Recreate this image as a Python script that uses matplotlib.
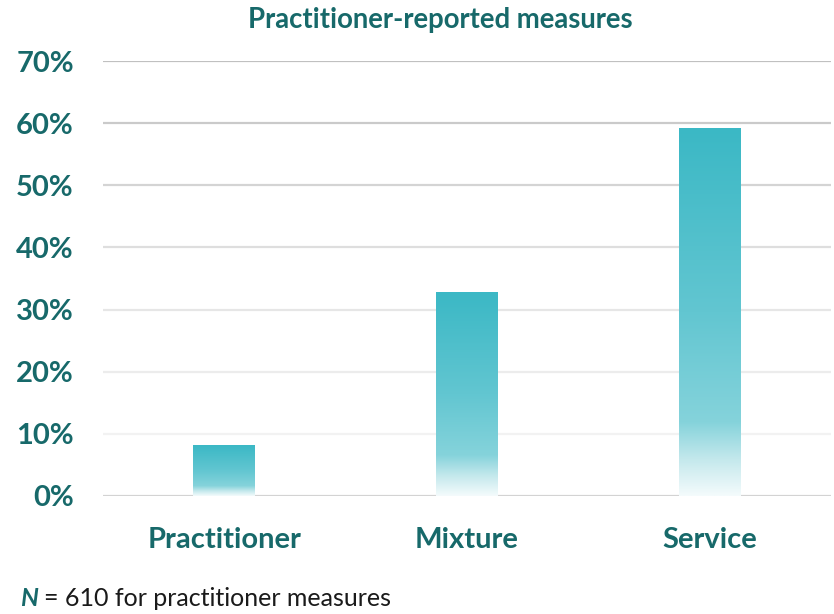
import matplotlib.pyplot as plt
import numpy as np
from matplotlib.colors import LinearSegmentedColormap

# data
categories = ["Practitioner", "Mixture", "Service"]
values = [8.2, 32.8, 59.1]
yticks = [0, 10, 20, 30, 40, 50, 60, 70]
grid_colors = ["#d3d3d3", "#f2f2f2", "#ececec", "#e6e6e6", "#dedede", "#d4d4d4", "#cacaca", "#c0c0c0"]

teal = "#17696a"
plt.rcParams['font.family'] = ['Lato', 'DejaVu Sans']

fig = plt.figure(figsize=(8.34, 6.14), dpi=100)
ax = fig.add_axes([103/834, 1 - 496/614, 728/834, 435/614])

x = np.arange(len(categories))
width = 0.255
bars = ax.bar(x, values, width=width, color="none", zorder=3)

# gradient fill, top teal -> white at bottom of each bar
cmap = LinearSegmentedColormap.from_list("tealfade", [
    (0.0, "#3bb8c5"),
    (0.5, "#62c6d1"),
    (0.8, "#85d3db"),
    (0.9, "#c3e8ec"),
    (1.0, "#f4fbfc"),
])
grad = np.linspace(0, 1, 256).reshape(-1, 1)
for b in bars:
    x0, y0 = b.get_x(), b.get_y()
    ax.imshow(grad, cmap=cmap, aspect="auto", zorder=3,
              extent=[x0, x0 + b.get_width(), y0, y0 + b.get_height()],
              origin="upper")

ax.set_xlim(-0.5, 2.5)
ax.set_ylim(0, 70)

for t, c in zip(yticks, grid_colors):
    ax.axhline(t, color=c, lw=1.6, zorder=1)

ax.set_yticks(yticks)
ax.set_yticklabels([f"{t}%" for t in yticks])
ax.set_xticks(x)
ax.set_xticklabels(categories)
ax.tick_params(axis="y", length=0, colors=teal, labelsize=21, pad=21)
ax.tick_params(axis="x", length=0, colors=teal, labelsize=21, pad=22)
for lab in ax.get_xticklabels() + ax.get_yticklabels():
    lab.set_fontweight("bold")
for s in ax.spines.values():
    s.set_visible(False)

fig.text(440/834, 1 - 20/614, "Practitioner-reported measures", ha="center", va="center",
         fontsize=19.8, fontweight="bold", color=teal)

fig.text(20/834, 1 - 599/614, "N", ha="left", va="center", fontsize=18,
         fontweight="bold", fontstyle="italic", color=teal)
fig.text(44/834, 1 - 599/614, "= 610 for practitioner measures", ha="left", va="center",
         fontsize=18, color="#1a1a1a")

fig.savefig("out.png", dpi=100)
